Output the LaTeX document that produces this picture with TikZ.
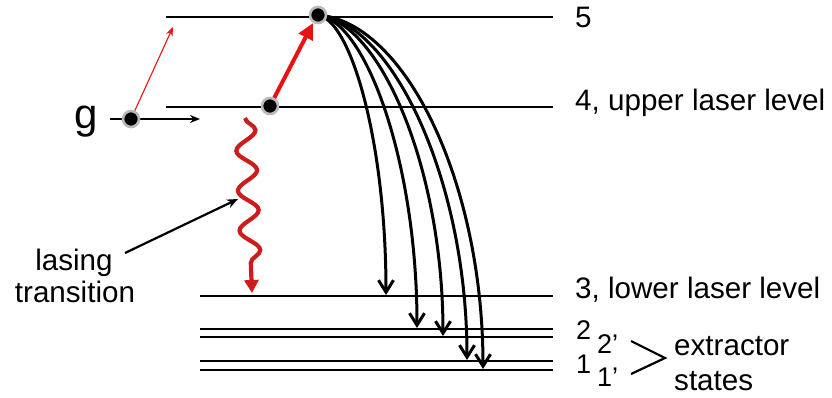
\documentclass[tikz,border=0pt]{standalone}
\usepackage{fontspec}
\setmainfont{Liberation Sans}
\usetikzlibrary{arrows.meta,decorations.pathmorphing}
\definecolor{pumpred}{RGB}{232,18,18}
\definecolor{wavered}{RGB}{205,28,28}
\tikzset{
  level/.style={line width=2.6pt,black},
  dotnode/.style={circle,fill=black,draw=gray!55,line width=2.6pt,minimum size=16pt,inner sep=0pt},
  decay/.style={line width=3pt,-{Straight Barb[length=12pt,width=15pt,line width=3pt]}},
  lbl/.style={inner sep=0pt,font=\fontsize{29.6}{32}\selectfont},
  sublbl/.style={inner sep=0pt,font=\fontsize{27}{29}\selectfont},
}
\begin{document}
\begin{tikzpicture}[x=1pt,y=-1pt]
\useasboundingbox (0,0) rectangle (832,397);
% levels
\draw[level] (166,17) -- (553,17);
\draw[level] (166,107) -- (553,107);
\draw[level] (200,296) -- (553,296);
\draw[level] (200,329) -- (553,329);
\draw[level] (200,337) -- (553,337);
\draw[level] (200,361) -- (553,361);
\draw[level] (200,370) -- (553,370);
% key points
\coordinate (p5) at (318,15);
\coordinate (p4) at (270,106);
\coordinate (pg) at (131,119);
\coordinate (gdash) at (110,119);
\coordinate (gend) at (200,119);
\coordinate (thintip) at (173,27);
\coordinate (thicktip) at (313,23);
\coordinate (e1) at (386,295);
\coordinate (e2) at (417,328);
\coordinate (e3) at (443,336);
\coordinate (e4) at (467,360);
\coordinate (e5) at (483,369);
\coordinate (w0) at (245,118);
\coordinate (w1) at (252,293);
\coordinate (ptr0) at (125,253);
\coordinate (ptr1) at (238,199);
% decay arrows
\draw[decay] (p5) .. controls +(34,6) and +(0,-150) .. (e1);
\draw[decay] (p5) .. controls +(48,6) and +(0,-165) .. (e2);
\draw[decay] (p5) .. controls +(62,7) and +(0,-168) .. (e3);
\draw[decay] (p5) .. controls +(74,7) and +(0,-180) .. (e4);
\draw[decay] (p5) .. controls +(88,7) and +(0,-185) .. (e5);
% ground injection
\draw[line width=2.2pt,-{Stealth[length=10pt,width=8pt]}] (gdash) -- (gend);
\draw[pumpred,line width=1.1pt,-{Stealth[length=9pt,width=7pt]}] (pg) -- (thintip);
\draw[pumpred,line width=4pt,-{Triangle[length=16pt,width=15pt]}] (p4) -- (thicktip);
% lasing wave
\draw[wavered,line width=4.2pt,decorate,decoration={snake,amplitude=10pt,segment length=40pt,post length=20pt},-{Triangle[length=13pt,width=14pt]}] (w0) -- (w1);
\draw[line width=2.2pt,-{Stealth[length=11pt,width=9pt]}] (ptr0) -- (ptr1);
% dots
\node[dotnode] (d5) at (p5) {};
\node[dotnode] (d4) at (p4) {};
\node[dotnode] (dg) at (pg) {};
% labels
\node[inner sep=0pt,font=\fontsize{42}{44}\selectfont,anchor=base] (g) at (86,128) {g};
\node[lbl,anchor=base] (l1) at (74,270) {lasing};
\node[lbl,anchor=base] (l2) at (75,302) {transition};
\node[lbl,anchor=base west] (t5) at (575,27) {5};
\node[lbl,anchor=base west] (t4) at (575,110) {4, upper laser level};
\node[lbl,anchor=base west] (t3) at (575,298) {3, lower laser level};
\node[sublbl,anchor=base west] (t2) at (576,339) {2};
\node[sublbl,anchor=base west] (t1) at (576,373) {1};
\node[sublbl,anchor=base west] (t2p) at (597,353) {2’};
\node[sublbl,anchor=base west] (t1p) at (597,386) {1’};
\coordinate (b0) at (631,341);
\coordinate (b1) at (665,358);
\coordinate (b2) at (631,374);
\draw[line width=2.2pt] (b0) -- (b1) -- (b2);
\node[lbl,anchor=base west] (ex) at (674,355) {extractor};
\node[lbl,anchor=base west] (st) at (674,390) {states};
\end{tikzpicture}
\end{document}
